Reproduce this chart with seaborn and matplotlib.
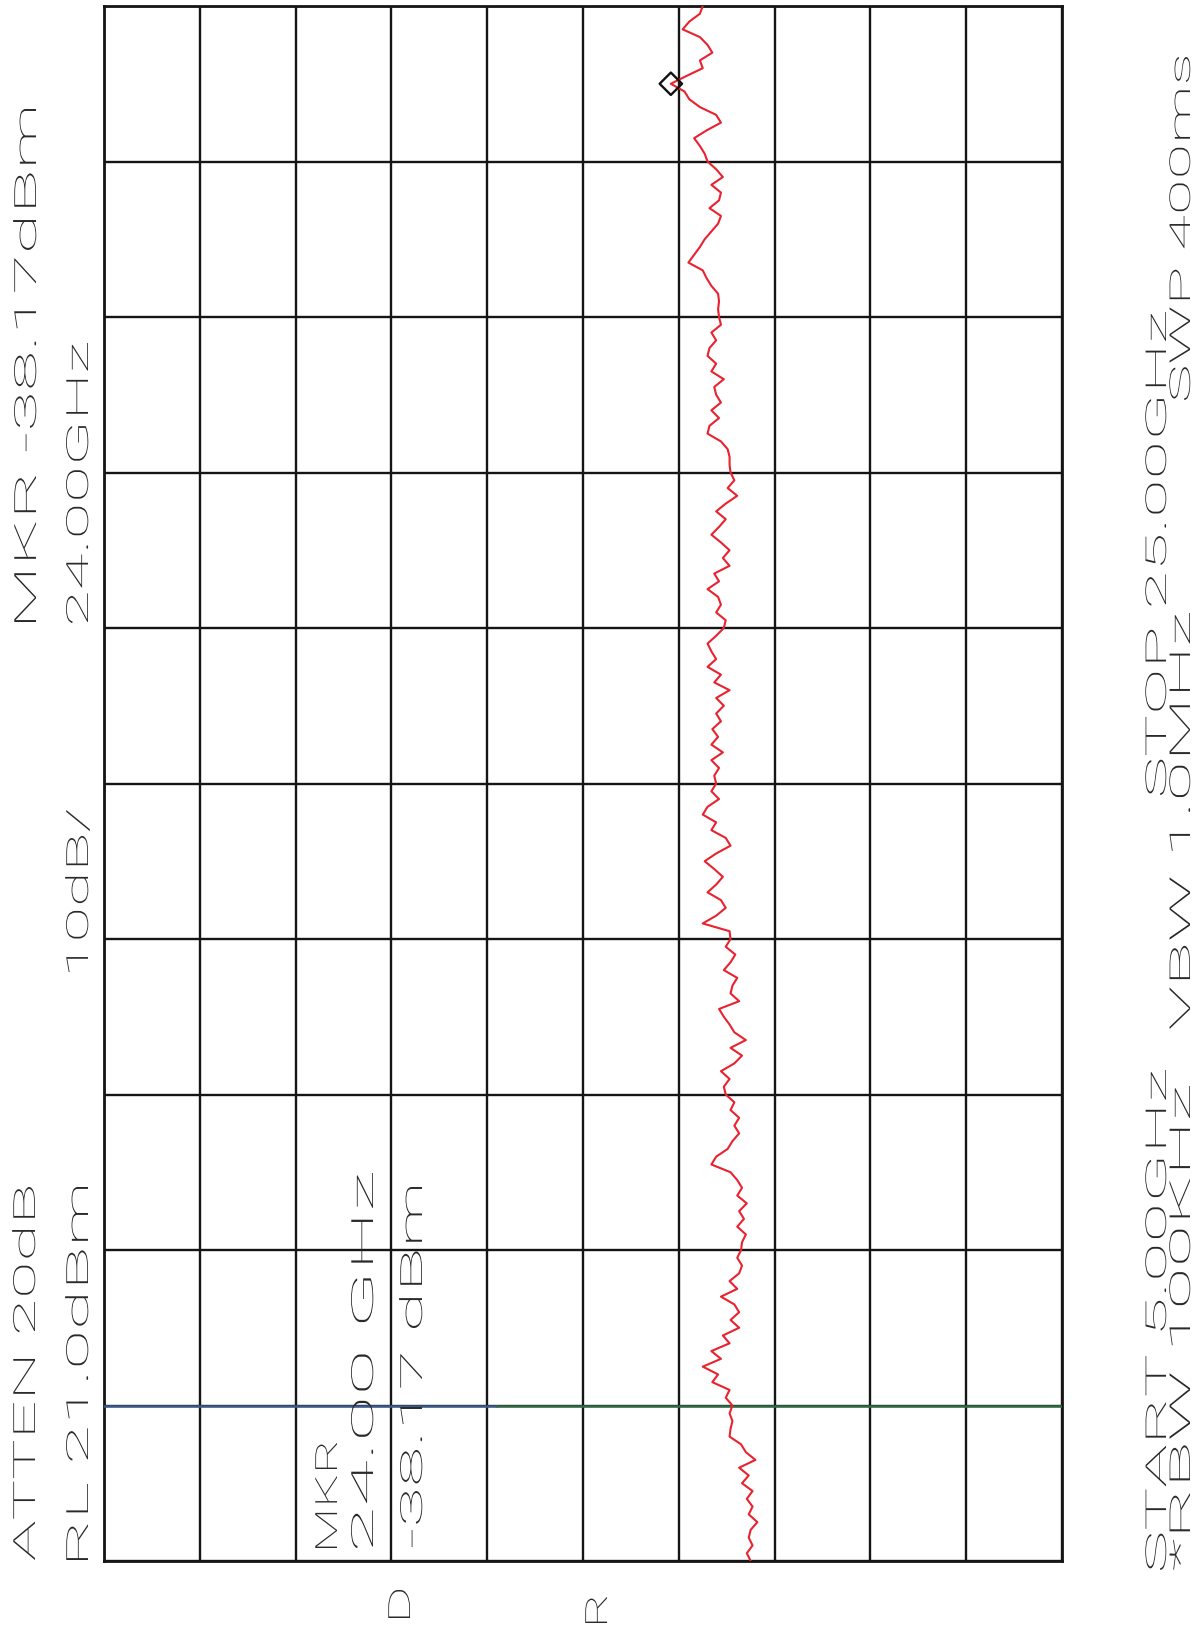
import numpy as np
import matplotlib
matplotlib.use("Agg")
import matplotlib.pyplot as plt
import seaborn as sns
from matplotlib.patheffects import AbstractPathEffect
from matplotlib.transforms import Affine2D
from matplotlib.textpath import TextPath
from matplotlib.font_manager import FontProperties

W, H = 1193, 1629

# analyzer settings (from the annotation)
start_ghz, stop_ghz = 5.0, 25.0
ref_dbm = 21.0
db_div = 10
n_div = 10

# trace, 25 GHz down to 5 GHz, 0.1 GHz steps
amp_dbm = [
    -41.5, -41.2, -40.1, -39.4, -41.2, -42.0, -42.5, -41.2, -41.5, -39.8,
    -38.17, -39.6, -40.1, -41.2, -42.9, -43.4, -41.9, -40.6, -41.2, -41.7,
    -42.0, -42.9, -43.6, -42.4, -43.4, -43.2, -42.2, -43.4, -43.1, -42.4,
    -41.7, -41.2, -40.6, -40.0, -41.5, -41.9, -42.4, -43.1, -43.2, -43.1,
    -43.2, -43.4, -42.4, -42.9, -42.2, -42.0, -42.9, -42.4, -43.7, -42.7,
    -42.9, -43.4, -42.4, -43.2, -42.2, -42.0, -43.4, -44.1, -44.3, -44.3,
    -44.4, -44.8, -44.1, -45.1, -43.9, -42.9, -43.9, -43.2, -42.4, -43.4,
    -44.3, -43.6, -44.3, -42.7, -43.2, -42.0, -43.1, -43.4, -42.9, -43.9,
    -43.7, -42.9, -42.0, -42.4, -42.9, -42.0, -43.4, -42.7, -44.3, -42.9,
    -43.7, -42.9, -43.4, -42.5, -43.1, -42.4, -43.6, -42.4, -43.2, -42.7,
    -42.9, -42.4, -43.2, -42.0, -41.5, -42.9, -42.4, -43.9, -44.4, -42.9,
    -41.7, -42.7, -43.6, -42.9, -42.0, -43.4, -43.9, -42.9, -41.5, -44.3,
    -44.4, -43.9, -44.9, -44.4, -43.7, -45.1, -44.6, -44.4, -45.3, -43.2,
    -43.7, -44.3, -44.8, -46.0, -44.4, -45.6, -44.8, -43.4, -44.3, -43.7,
    -43.9, -44.8, -44.4, -45.3, -44.8, -45.3, -44.6, -44.1, -42.9, -42.4,
    -44.4, -45.1, -45.6, -45.1, -46.1, -45.3, -45.8, -45.1, -46.0, -45.6,
    -45.5, -45.1, -45.6, -45.3, -44.3, -45.1, -43.4, -44.8, -45.3, -44.4,
    -45.3, -43.6, -44.3, -42.4, -43.4, -41.5, -43.1, -42.5, -44.3, -43.9,
    -44.6, -44.3, -44.6, -44.4, -44.3, -45.5, -46.0, -47.0, -45.3, -46.3,
    -45.6, -46.7, -46.1, -46.7, -46.3, -47.2, -46.5, -46.3, -46.7, -46.1,
    -46.5,
]
freq_ghz = np.linspace(stop_ghz, start_ghz, len(amp_dbm))

mkr_ghz = 24.0
mkr_dbm = -38.17

# coloured display line across the screen
line_ghz = 7.0
line_split_dbm = -20.0

# annotation: text, baseline x px, start y px, end y px, size pt, height stretch
labels = [
    ("ATTEN 20dB", 35, 1560, 1187, 22, 1.0),
    ("RL 21.0dBm", 88, 1560, 1187, 22, 1.0),
    ("10dB/", 88, 972, 810, 22, 1.0),
    ("MKR -38.17dBm", 36, 622, 109, 22, 1.0),
    ("24.00GHz", 88, 623, 343, 22, 1.0),
    ("MKR", 337, 1548, 1443, 22, 1.0),
    ("24.00 GHz", 373, 1548, 1173, 22, 1.0),
    ("-38.17 dBm", 422, 1547, 1187, 22, 1.0),
    ("D", 410, 1618, 1590, 22, 1.0),
    ("R", 607, 1623, 1597, 22, 1.0),
    ("START 5.00GHz", 1166, 1570, 1070, 15, 1.38),
    ("STOP 25.00GHz", 1166, 795, 312, 15, 1.38),
    ("*RBW 100KHz", 1190, 1570, 1086, 15, 1.38),
    ("VBW 1.0MHz", 1190, 1029, 613, 15, 1.38),
    ("SWP 400ms", 1190, 400, 57, 15, 1.38),
]


class Stretch(AbstractPathEffect):
    """widen glyphs along the text direction, like the plotter font"""
    def __init__(self, sx=1.0, sy=1.0):
        super().__init__()
        self.sx, self.sy = sx, sy

    def draw_path(self, renderer, gc, tpath, affine, rgbFace=None):
        renderer.draw_path(gc, tpath, Affine2D().scale(self.sx, self.sy) + affine, rgbFace)


sns.set_style("white")
plt.rcParams["font.family"] = ["Roboto", "DejaVu Sans"]

fig = plt.figure(figsize=(W / 100, H / 100), dpi=100)
ax = fig.add_axes([104 / W, 1 - 1561 / H, (1062 - 104) / W, (1561 - 6) / H])

amp_ticks = [ref_dbm - i * db_div for i in range(n_div + 1)]
freq_ticks = list(np.linspace(start_ghz, stop_ghz, n_div + 1))

ax.set_xlim(ref_dbm, ref_dbm - n_div * db_div)
ax.set_ylim(start_ghz, stop_ghz)
ax.set_xticks(amp_ticks)
ax.set_yticks(freq_ticks)
ax.set_xticklabels([])
ax.set_yticklabels([])
ax.tick_params(length=0)
ax.grid(True, color="#151515", lw=1.7)
for s in ax.spines.values():
    s.set_color("#151515")
    s.set_linewidth(2)

# display line: blue on the left, green to the right
ax.plot([ref_dbm, line_split_dbm], [line_ghz, line_ghz], color="#3b5a8c", lw=1.8, zorder=3)
ax.plot([line_split_dbm, ref_dbm - n_div * db_div], [line_ghz, line_ghz], color="#2f6a45", lw=1.8, zorder=3)

sns.lineplot(x=amp_dbm, y=freq_ghz, sort=False, estimator=None, orient="y",
             color="#e8222f", lw=1.5, ax=ax, zorder=4)
sns.scatterplot(x=[mkr_dbm], y=[mkr_ghz], marker="D", s=130, facecolors="none",
                edgecolors="#111111", linewidths=1.7, ax=ax, zorder=5)
ax.set_xlabel("")
ax.set_ylabel("")

for txt, bx, y0, y1, pt, sy in labels:
    fp = FontProperties(family="Roboto", weight="light", size=pt)
    ext = TextPath((0, 0), txt, size=pt * 100 / 72, prop=fp).get_extents()
    sx = (y0 - y1) / ext.width
    ay = y0 + sx * ext.x0
    fig.text(bx / W, 1 - ay / H, txt, rotation=90, rotation_mode="anchor",
             ha="left", va="baseline", fontproperties=fp, color="#2a2a2a",
             path_effects=[Stretch(sx, sy)])

fig.savefig("out.png", dpi=100, facecolor="white")
